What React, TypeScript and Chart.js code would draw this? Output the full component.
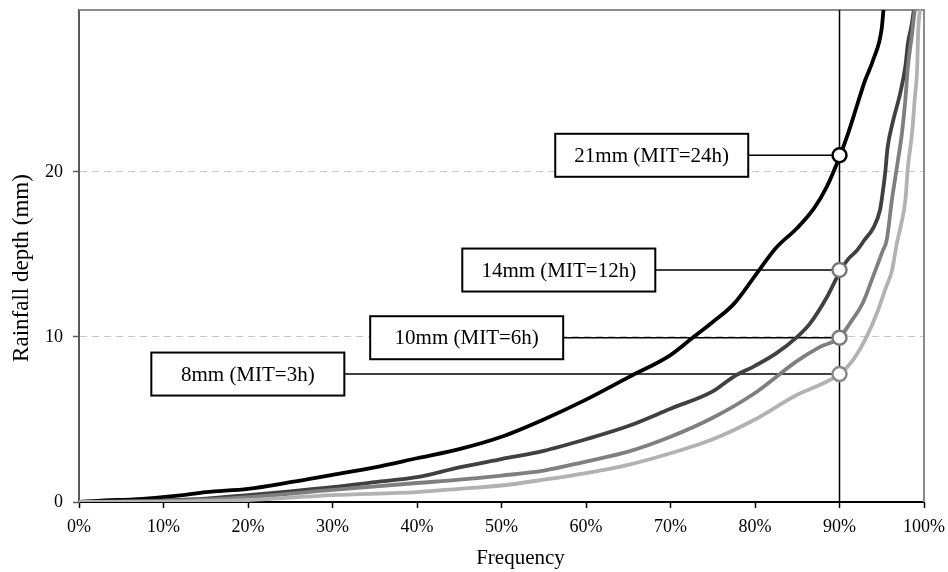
import React, { useEffect, useRef } from 'react';
import { Chart, registerables } from 'chart.js';

Chart.register(...registerables);

// ---- data ----
const FREQ_24H = [0, 3, 6, 9, 12, 15, 20, 25, 30, 35, 40, 45, 50, 55, 60, 65, 70, 72.5, 75, 77.5, 80, 82.5, 85, 87, 88.5, 90, 91, 92, 93, 94, 95, 95.2];
const DEPTH_24H = [0, 0.1, 0.15, 0.25, 0.4, 0.6, 0.8, 1.2, 1.65, 2.1, 2.65, 3.2, 3.95, 5.0, 6.2, 7.55, 8.9, 9.9, 10.9, 12.0, 13.7, 15.4, 16.6, 17.8, 19.1, 20.9, 22.3, 23.9, 25.5, 26.8, 28.7, 29.8];

const FREQ_12H = [0, 5, 10, 15, 20, 25, 30, 35, 40, 45, 50, 55, 60, 65, 70, 75, 77.5, 80, 82.5, 85, 86.5, 88.5, 90, 91, 92, 93, 94, 94.8, 95.1, 95.4, 95.7, 96.3, 97.2, 97.8, 98.1, 98.5, 98.8];
const DEPTH_12H = [0, 0.05, 0.1, 0.2, 0.42, 0.65, 0.9, 1.2, 1.5, 2.1, 2.6, 3.1, 3.8, 4.6, 5.65, 6.7, 7.6, 8.25, 9.0, 10.0, 10.8, 12.4, 13.9, 14.7, 15.2, 15.9, 16.6, 17.7, 18.7, 19.9, 21.5, 23.0, 24.8, 26.4, 27.8, 28.8, 29.8];

const FREQ_6H = [0, 10, 20, 30, 40, 45, 50, 55, 60, 65, 70, 75, 80, 85, 87.7, 90, 91.2, 92.8, 94, 95.1, 95.6, 96.2, 96.8, 97.4, 97.8, 98.1, 98.6, 98.9];
const DEPTH_6H = [0, 0.05, 0.3, 0.73, 1.15, 1.35, 1.6, 1.9, 2.45, 3.05, 3.95, 5.1, 6.6, 8.55, 9.4, 9.95, 10.8, 12.1, 13.7, 15.2, 15.9, 18.3, 20.3, 22.4, 24.4, 26.4, 28.4, 29.8];

const FREQ_3H = [0, 10, 20, 30, 40, 45, 50, 55, 60, 65, 70, 75, 80, 85, 87.7, 90, 91.6, 93.2, 94.4, 95.5, 96.2, 96.8, 97.2, 97.8, 98.1, 98.6, 98.9, 99.2, 99.3, 99.5];
const DEPTH_3H = [0, 0.02, 0.12, 0.42, 0.6, 0.8, 1.0, 1.35, 1.75, 2.25, 2.95, 3.8, 5.0, 6.5, 7.1, 7.75, 8.6, 10.0, 11.4, 13.0, 14.0, 15.7, 16.6, 18.3, 20.3, 22.4, 24.4, 26.4, 28.4, 29.8];

const SERIES_NAMES = ['MIT=24h', 'MIT=12h', 'MIT=6h', 'MIT=3h'];
const SERIES_COLORS = ['#000000', '#404040', '#7f7f7f', '#b2b2b2'];

const X_TICKS = [0, 10, 20, 30, 40, 50, 60, 70, 80, 90, 100];
const Y_TICKS = [0, 10, 20];
const Y_MAX = 29.8;

const MARKER_FREQ = 90;
const MARKER_DEPTHS = [21.0, 14.05, 9.95, 7.75];
const MARKER_LABELS = ['21mm (MIT=24h)', '14mm (MIT=12h)', '10mm (MIT=6h)', '8mm (MIT=3h)'];
const MARKER_BORDERS = ['#000000', '#7a7a7a', '#7a7a7a', '#8a8a8a'];

const X_TITLE = 'Frequency';
const Y_TITLE = 'Rainfall depth (mm)';

const FONT = '"Liberation Serif", "Times New Roman", serif';

function toPoints(xs: number[], ys: number[]) {
  return xs.map((x, i) => ({ x, y: ys[i] }));
}

const decorPlugin = {
  id: 'decor',
  beforeDatasetsDraw(chart: any, _args: any, opts: any) {
    const { ctx, chartArea, scales } = chart;
    const xs = scales.x;
    const ys = scales.y;
    ctx.save();
    // top & right frame
    ctx.strokeStyle = '#8c8c8c';
    ctx.lineWidth = 2;
    ctx.beginPath();
    ctx.moveTo(chartArea.left, chartArea.top);
    ctx.lineTo(chartArea.right, chartArea.top);
    ctx.lineTo(chartArea.right, chartArea.bottom);
    ctx.stroke();

    // leader lines + label boxes
    const xm = xs.getPixelForValue(MARKER_FREQ);
    MARKER_LABELS.forEach((label, i) => {
      const yy = ys.getPixelForValue(MARKER_DEPTHS[i]);
      const xr = xs.getPixelForValue(opts.boxRight[i]);
      ctx.strokeStyle = '#000';
      ctx.lineWidth = 1.6;
      ctx.beginPath();
      ctx.moveTo(xr, yy);
      ctx.lineTo(xm, yy);
      ctx.stroke();
      const w = opts.boxWidth;
      const h = opts.boxHeight;
      ctx.fillStyle = '#fff';
      ctx.fillRect(xr - w, yy - h / 2, w, h);
      ctx.lineWidth = 2;
      ctx.strokeRect(xr - w, yy - h / 2, w, h);
      ctx.fillStyle = '#000';
      ctx.font = '21px ' + FONT;
      ctx.textAlign = 'center';
      ctx.textBaseline = 'middle';
      ctx.fillText(label, xr - w / 2, yy + 1);
    });
    ctx.restore();
  },
  afterDraw(chart: any) {
    const { ctx, chartArea } = chart;
    ctx.save();
    ctx.fillStyle = '#000';
    ctx.textAlign = 'center';
    ctx.textBaseline = 'middle';
    ctx.font = '21px ' + FONT;
    ctx.fillText(X_TITLE, (chartArea.left + chartArea.right) / 2 + 19, chartArea.bottom + 56);
    ctx.translate(chartArea.left - 57, (chartArea.top + chartArea.bottom) / 2 + 12);
    ctx.rotate(-Math.PI / 2);
    ctx.font = '23px ' + FONT;
    ctx.fillText(Y_TITLE, 0, 0);
    ctx.restore();
  },
};

export default function App() {
  const ref = useRef<HTMLCanvasElement | null>(null);

  useEffect(() => {
    if (!ref.current) return;
    Chart.defaults.font.family = FONT;
    Chart.defaults.color = '#000';

    const curves = [
      toPoints(FREQ_24H, DEPTH_24H),
      toPoints(FREQ_12H, DEPTH_12H),
      toPoints(FREQ_6H, DEPTH_6H),
      toPoints(FREQ_3H, DEPTH_3H),
    ];

    const datasets: any[] = [
      {
        type: 'scatter',
        label: 'markers',
        data: MARKER_DEPTHS.map((d) => ({ x: MARKER_FREQ, y: d })),
        pointRadius: 7,
        pointBackgroundColor: '#fff',
        pointBorderColor: MARKER_BORDERS,
        pointBorderWidth: 2.5,
        showLine: false,
        order: 0,
      },
      ...curves.map((pts, i) => ({
        type: 'line',
        label: SERIES_NAMES[i],
        data: pts,
        borderColor: SERIES_COLORS[i],
        borderWidth: 3.8,
        pointRadius: 0,
        cubicInterpolationMode: 'monotone',
        fill: false,
        clip: 0,
        order: 1 + (3 - i) * 0.1,
      })),
      {
        type: 'line',
        label: 'p90',
        data: [
          { x: MARKER_FREQ, y: 0 },
          { x: MARKER_FREQ, y: Y_MAX },
        ],
        borderColor: '#000',
        borderWidth: 1.5,
        pointRadius: 0,
        order: 3,
      },
    ];

    const chart = new Chart(ref.current, {
      type: 'line',
      data: { datasets },
      plugins: [decorPlugin as any],
      options: {
        animation: false,
        responsive: true,
        maintainAspectRatio: false,
        layout: { padding: { top: 10, right: 24, left: 0, bottom: 0 } },
        plugins: {
          legend: { display: false },
          tooltip: { enabled: false },
          decor: { boxRight: [79.2, 68.2, 57.3, 31.4], boxWidth: 193, boxHeight: 43 },
        } as any,
        scales: {
          x: {
            type: 'linear',
            min: 0,
            max: 100,
            afterBuildTicks: (s: any) => {
              s.ticks = X_TICKS.map((v) => ({ value: v }));
            },
            afterFit: (s: any) => {
              s.height = 70;
              s.paddingLeft = 0;
              s.paddingRight = 0;
            },
            ticks: {
              font: { size: 18 },
              padding: 8,
              maxRotation: 0,
              callback: (v: any) => v + '%',
            },
            grid: {
              drawOnChartArea: false,
              drawTicks: true,
              tickLength: 6,
              tickColor: '#000',
              tickWidth: 1.5,
            },
            border: { color: '#000', width: 2 },
          },
          y: {
            type: 'linear',
            min: 0,
            max: Y_MAX,
            afterBuildTicks: (s: any) => {
              s.ticks = Y_TICKS.map((v) => ({ value: v }));
            },
            afterFit: (s: any) => {
              s.width = 79;
              s.paddingTop = 0;
              s.paddingBottom = 0;
            },
            ticks: {
              font: { size: 18 },
              padding: 10,
            },
            grid: {
              color: (c: any) => (c.tick && c.tick.value === 0 ? 'rgba(0,0,0,0)' : '#c8c8c8'),
              lineWidth: 1,
              tickLength: 6,
              tickColor: '#595959',
              tickWidth: 1.5,
            },
            border: { color: '#595959', width: 2, dash: [7, 5] },
          },
        },
      },
    });
    return () => chart.destroy();
  }, []);

  return (
    <div style={{ position: 'fixed', left: 0, top: 0, width: 948, height: 572, background: '#fff' }}>
      <canvas ref={ref} />
    </div>
  );
}
